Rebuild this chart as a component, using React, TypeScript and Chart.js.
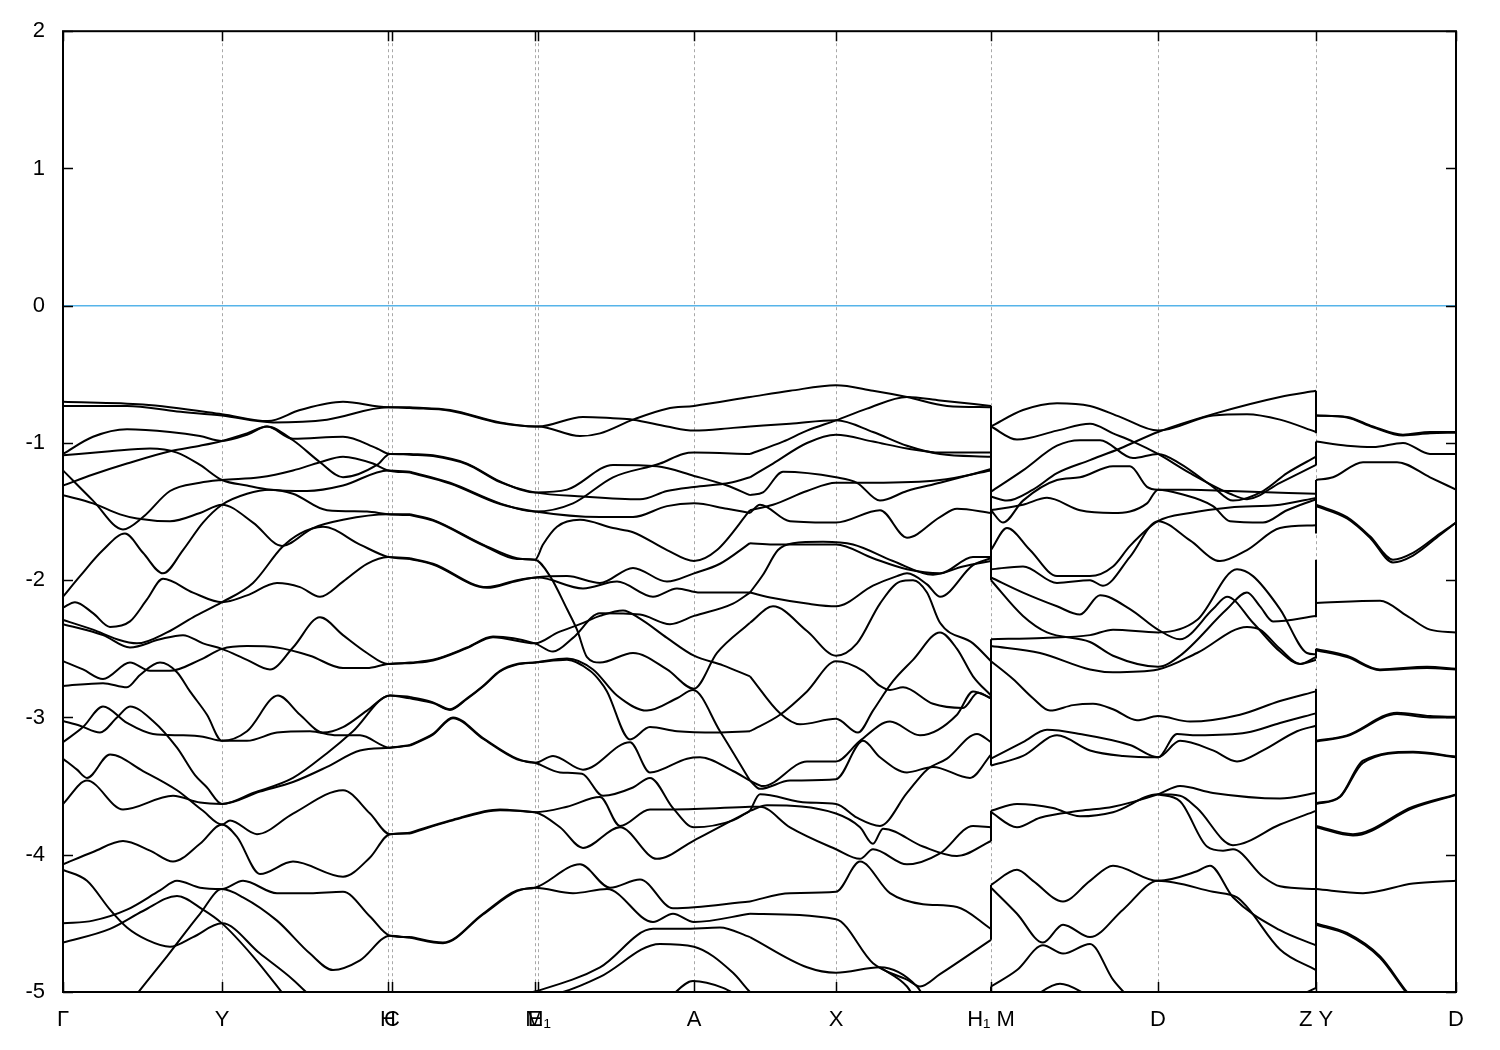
import React, { useEffect, useRef } from "react";
import { Chart, registerables } from "chart.js";
Chart.register(...registerables);

// k-path positions (path length units) of the high-symmetry points and their labels
const kPoints = [0, 159, 325, 329, 472, 475, 631, 773, 928, 1095, 1253, 1393];
const kLabels = ["Γ", "Y", "H", "C", "E", "M₁", "A", "X", "H₁ M", "D", "Z Y", "D"];
const energyTicks = [-5, -4, -3, -2, -1, 0, 1, 2];
const fermiEnergy = 0;
const kMax = 1393;
const kH1M = 928;
const kZY = 1253;

// bands: each curve is a list of [k, E(eV)]
const bandsGammaToH = [
  [[0,-0.70],[80,-0.72],[159,-0.79],[205,-0.84],[237,-0.76],[280,-0.70],[325,-0.74],[347,-0.74]],
  [[0,-0.73],[64,-0.73],[114,-0.77],[159,-0.80],[210,-0.85],[264,-0.83],[325,-0.74],[347,-0.745]],
  [[0,-1.08],[30,-0.955],[64,-0.90],[107,-0.92],[137,-0.95],[159,-0.985],[184,-0.94],[204,-0.88],[230,-0.97],[280,-0.955],[314,-1.04],[327,-1.08],[347,-1.08]],
  [[0,-1.31],[30,-1.23],[64,-1.15],[107,-1.06],[137,-1.02],[159,-0.985],[184,-0.93],[204,-0.88],[230,-0.98],[257,-1.14],[280,-1.25],[314,-1.16],[327,-1.08],[347,-1.085]],
  [[0,-1.09],[47,-1.06],[87,-1.04],[114,-1.07],[137,-1.16],[159,-1.27],[184,-1.31],[207,-1.34],[244,-1.35],[280,-1.31],[325,-1.20],[347,-1.21]],
  [[0,-1.20],[30,-1.42],[60,-1.63],[80,-1.54],[107,-1.35],[137,-1.29],[159,-1.27],[197,-1.25],[230,-1.20],[257,-1.14],[280,-1.10],[310,-1.15],[325,-1.20],[347,-1.215]],
  [[0,-1.38],[30,-1.44],[57,-1.52],[74,-1.55],[107,-1.57],[137,-1.51],[159,-1.45],[190,-1.58],[219,-1.75],[250,-1.62],[280,-1.56],[325,-1.52],[347,-1.52]],
  [[0,-2.12],[17,-1.97],[40,-1.78],[62,-1.66],[80,-1.80],[100,-1.95],[120,-1.78],[140,-1.58],[159,-1.45],[184,-1.37],[207,-1.34],[230,-1.37],[264,-1.49],[304,-1.50],[325,-1.52],[347,-1.525]],
  [[0,-2.20],[12,-2.16],[30,-2.24],[47,-2.34],[67,-2.30],[84,-2.14],[100,-1.99],[130,-2.09],[159,-2.16],[184,-2.11],[214,-2.02],[237,-2.05],[257,-2.12],[280,-2.01],[304,-1.88],[325,-1.83],[347,-1.84]],
  [[0,-2.29],[30,-2.36],[54,-2.43],[74,-2.46],[104,-2.38],[130,-2.27],[159,-2.16],[190,-2.02],[219,-1.76],[237,-1.66],[260,-1.61],[297,-1.74],[325,-1.83],[347,-1.845]],
  [[0,-2.32],[40,-2.40],[67,-2.49],[97,-2.43],[120,-2.40],[140,-2.46],[159,-2.50],[184,-2.58],[207,-2.65],[230,-2.49],[257,-2.27],[280,-2.40],[304,-2.53],[325,-2.61],[347,-2.60]],
  [[0,-2.59],[20,-2.65],[40,-2.72],[67,-2.60],[87,-2.66],[107,-2.66],[137,-2.58],[159,-2.50],[184,-2.48],[214,-2.49],[247,-2.55],[280,-2.64],[304,-2.64],[325,-2.61],[347,-2.605]],
  [[0,-2.77],[40,-2.75],[64,-2.78],[77,-2.69],[97,-2.60],[114,-2.67],[127,-2.81],[144,-2.98],[159,-3.17],[184,-3.10],[215,-2.84],[237,-2.98],[260,-3.11],[280,-3.07],[304,-2.95],[327,-2.84],[347,-2.85]],
  [[0,-3.025],[17,-3.06],[37,-3.11],[54,-3.0],[67,-2.92],[90,-3.025],[114,-3.22],[132,-3.42],[144,-3.51],[159,-3.63],[190,-3.55],[230,-3.44],[264,-3.26],[290,-3.10],[327,-2.84],[347,-2.86]],
  [[0,-3.18],[20,-3.07],[40,-2.92],[64,-3.04],[90,-3.12],[120,-3.13],[140,-3.14],[159,-3.17],[184,-3.17],[214,-3.11],[247,-3.10],[274,-3.13],[297,-3.13],[327,-3.22],[347,-3.20]],
  [[0,-3.30],[14,-3.38],[24,-3.44],[47,-3.27],[80,-3.39],[114,-3.53],[140,-3.68],[159,-3.78],[167,-3.75],[194,-3.85],[230,-3.70],[280,-3.53],[307,-3.70],[327,-3.85],[347,-3.84]],
  [[0,-3.63],[24,-3.46],[60,-3.67],[110,-3.57],[137,-3.62],[159,-3.63],[197,-3.54],[230,-3.47],[264,-3.36],[297,-3.24],[327,-3.22],[347,-3.205]],
  [[0,-4.07],[30,-3.98],[60,-3.90],[87,-3.97],[110,-4.05],[137,-3.92],[159,-3.78],[174,-3.87],[197,-4.14],[230,-4.05],[280,-4.16],[307,-4.02],[327,-3.85],[347,-3.845]],
  [[0,-4.11],[24,-4.19],[47,-4.40],[64,-4.53],[84,-4.62],[107,-4.67],[130,-4.60],[159,-4.50],[197,-4.72],[230,-4.91],[250,-5.05]],
  [[0,-4.50],[30,-4.48],[64,-4.40],[97,-4.26],[114,-4.19],[137,-4.24],[159,-4.25],[180,-4.19],[214,-4.28],[247,-4.28],[280,-4.27],[307,-4.45],[327,-4.59],[347,-4.60]],
  [[0,-4.64],[47,-4.54],[80,-4.41],[114,-4.30],[140,-4.40],[159,-4.50],[190,-4.74],[224,-5.05]],
  [[70,-5.05],[104,-4.74],[137,-4.43],[159,-4.25],[180,-4.31],[214,-4.48],[247,-4.72],[270,-4.84],[297,-4.77],[327,-4.59],[347,-4.605]],
];

const bandsHToA = [
  [[347,-0.74],[387,-0.76],[437,-0.85],[472,-0.88],[475,-0.88],[520,-0.81],[550,-0.82],[570,-0.83],[604,-0.88],[631,-0.91],[670,-0.89],[687,-0.88]],
  [[347,-0.745],[387,-0.765],[437,-0.855],[472,-0.88],[475,-0.88],[517,-0.95],[537,-0.93],[570,-0.83],[604,-0.75],[631,-0.73],[687,-0.665]],
  [[347,-1.08],[370,-1.09],[404,-1.15],[437,-1.28],[472,-1.36],[504,-1.34],[550,-1.16],[594,-1.17],[631,-1.24],[664,-1.31],[687,-1.38]],
  [[347,-1.085],[370,-1.095],[404,-1.155],[437,-1.285],[472,-1.36],[520,-1.39],[577,-1.41],[604,-1.35],[631,-1.32],[667,-1.29],[687,-1.25]],
  [[347,-1.21],[387,-1.29],[437,-1.44],[472,-1.50],[510,-1.44],[550,-1.25],[597,-1.15],[620,-1.08],[631,-1.07],[687,-1.08]],
  [[347,-1.215],[387,-1.295],[437,-1.445],[472,-1.50],[537,-1.54],[570,-1.54],[604,-1.46],[631,-1.44],[664,-1.48],[687,-1.51]],
  [[347,-1.52],[370,-1.56],[420,-1.74],[454,-1.84],[472,-1.85],[480,-1.74],[494,-1.61],[517,-1.56],[550,-1.62],[570,-1.65],[604,-1.78],[631,-1.86],[654,-1.78],[687,-1.49]],
  [[347,-1.525],[370,-1.565],[420,-1.745],[454,-1.845],[472,-1.85],[487,-1.97],[504,-2.21],[514,-2.36],[524,-2.56],[537,-2.60],[570,-2.53],[604,-2.65],[631,-2.79],[654,-2.53],[687,-2.31]],
  [[347,-1.84],[370,-1.88],[424,-2.05],[454,-2.0],[472,-1.98],[504,-1.97],[537,-2.02],[570,-1.91],[604,-2.01],[631,-1.95],[657,-1.88],[687,-1.73]],
  [[347,-1.845],[370,-1.885],[424,-2.055],[454,-2.005],[475,-1.98],[520,-2.06],[554,-2.01],[590,-2.12],[614,-2.06],[637,-2.09],[687,-2.09]],
  [[347,-2.60],[370,-2.58],[404,-2.49],[430,-2.41],[472,-2.46],[490,-2.52],[510,-2.42],[537,-2.24],[577,-2.25],[607,-2.32],[631,-2.26],[670,-2.17],[687,-2.09]],
  [[347,-2.605],[370,-2.585],[404,-2.495],[430,-2.415],[472,-2.46],[495,-2.38],[517,-2.32],[537,-2.26],[560,-2.22],[577,-2.28],[604,-2.42],[631,-2.55],[660,-2.62],[687,-2.70]],
  [[347,-2.85],[370,-2.89],[387,-2.94],[404,-2.86],[420,-2.77],[437,-2.66],[454,-2.61],[472,-2.60],[504,-2.58],[527,-2.66],[537,-2.735],[544,-2.81],[567,-3.16],[587,-3.07],[614,-3.10],[654,-3.11],[687,-3.10]],
  [[347,-2.86],[370,-2.895],[387,-2.945],[404,-2.865],[420,-2.775],[437,-2.665],[454,-2.615],[472,-2.60],[504,-2.57],[530,-2.65],[554,-2.84],[584,-2.95],[614,-2.86],[630,-2.80],[657,-3.10],[687,-3.46]],
  [[347,-3.20],[370,-3.12],[390,-3.0],[420,-3.15],[454,-3.30],[472,-3.33],[490,-3.28],[520,-3.38],[567,-3.18],[587,-3.40],[624,-3.30],[637,-3.29],[670,-3.39],[687,-3.46]],
  [[347,-3.205],[370,-3.125],[390,-3.005],[420,-3.155],[454,-3.305],[472,-3.33],[497,-3.40],[519,-3.41],[540,-3.57],[570,-3.51],[587,-3.44],[610,-3.66],[631,-3.80],[670,-3.75],[687,-3.68]],
  [[347,-3.84],[387,-3.75],[437,-3.67],[472,-3.69],[504,-3.65],[537,-3.58],[557,-3.79],[587,-3.67],[610,-3.67],[687,-3.65]],
  [[347,-3.845],[387,-3.755],[437,-3.675],[472,-3.69],[497,-3.80],[520,-3.95],[557,-3.80],[594,-4.03],[630,-3.90],[687,-3.68]],
  [[347,-4.60],[380,-4.64],[420,-4.43],[454,-4.26],[472,-4.24],[517,-4.07],[547,-4.24],[577,-4.18],[610,-4.39],[687,-4.34]],
  [[347,-4.605],[380,-4.645],[420,-4.435],[454,-4.265],[472,-4.24],[510,-4.28],[544,-4.25],[590,-4.49],[610,-4.43],[631,-4.49],[687,-4.43]],
  [[440,-5.05],[475,-4.99],[537,-4.82],[590,-4.54],[620,-4.54],[657,-4.53],[687,-4.60]],
  [[460,-5.05],[500,-5.0],[537,-4.89],[597,-4.65],[631,-4.67],[670,-4.86],[687,-5.0],[695,-5.05]],
  [[605,-5.05],[630,-4.92],[660,-4.97],[680,-5.05]],
];

const bandsAToH1 = [
  [[687,-0.665],[727,-0.62],[773,-0.58],[810,-0.62],[844,-0.665],[884,-0.73],[928,-0.74]],
  [[687,-0.88],[727,-0.86],[773,-0.835],[810,-0.92],[844,-1.02],[877,-1.08],[928,-1.10]],
  [[687,-1.08],[720,-0.99],[744,-0.91],[773,-0.835],[804,-0.75],[844,-0.665],[877,-0.69],[928,-0.73]],
  [[687,-1.25],[710,-1.15],[744,-1.00],[773,-0.94],[810,-0.99],[844,-1.04],[877,-1.07],[928,-1.07]],
  [[687,-1.38],[700,-1.36],[720,-1.21],[773,-1.25],[794,-1.29],[817,-1.42],[844,-1.35],[877,-1.29],[928,-1.19]],
  [[687,-1.51],[697,-1.45],[727,-1.57],[773,-1.58],[817,-1.49],[844,-1.69],[877,-1.54],[894,-1.48],[928,-1.51]],
  [[687,-1.49],[710,-1.45],[744,-1.35],[773,-1.29],[810,-1.29],[877,-1.27],[928,-1.20]],
  [[687,-1.73],[710,-1.74],[773,-1.74],[810,-1.84],[844,-1.92],[877,-1.95],[910,-1.83],[928,-1.83]],
  [[687,-2.09],[710,-2.13],[744,-2.17],[773,-2.19],[810,-2.04],[834,-1.97],[844,-1.95],[864,-2.03],[877,-2.12],[910,-1.89],[928,-1.84]],
  [[687,-2.31],[710,-2.19],[744,-2.37],[773,-2.55],[794,-2.46],[817,-2.17],[837,-2.01],[850,-2.00],[864,-2.09],[877,-2.31],[910,-2.46],[928,-2.59]],
  [[687,-2.09],[700,-1.96],[715,-1.78],[730,-1.73],[760,-1.72],[790,-1.74],[830,-1.86],[870,-1.96],[900,-1.90],[928,-1.86]],
  [[687,-2.70],[717,-2.97],[737,-3.05],[773,-3.01],[795,-3.11],[810,-2.95],[830,-2.735],[850,-2.58],[877,-2.38],[894,-2.50],[910,-2.70],[928,-2.84]],
  [[687,-3.10],[717,-2.98],[744,-2.81],[773,-2.59],[800,-2.66],[817,-2.77],[827,-2.80],[840,-2.78],[870,-2.90],[900,-2.93],[915,-2.82],[928,-2.86]],
  [[687,-3.46],[697,-3.52],[727,-3.46],[773,-3.45],[800,-3.17],[817,-3.29],[844,-3.40],[870,-3.36],[907,-3.44],[928,-3.27]],
  [[687,-3.46],[700,-3.50],[744,-3.32],[773,-3.32],[797,-3.17],[827,-3.03],[857,-3.13],[894,-2.98],[910,-2.81],[928,-2.86]],
  [[687,-3.68],[697,-3.56],[744,-3.62],[773,-3.63],[794,-3.73],[817,-3.79],[844,-3.55],[864,-3.38],[884,-3.30],[914,-3.12],[928,-3.18]],
  [[687,-3.65],[697,-3.65],[727,-3.80],[773,-3.96],[797,-4.03],[810,-3.96],[844,-4.07],[877,-3.99],[910,-3.79],[928,-3.80]],
  [[687,-3.68],[704,-3.64],[773,-3.70],[797,-3.80],[810,-3.92],[820,-3.81],[860,-3.94],[894,-4.01],[928,-3.90]],
  [[687,-4.34],[727,-4.28],[773,-4.27],[797,-4.05],[827,-4.28],[860,-4.36],[894,-4.38],[928,-4.54]],
  [[687,-4.43],[773,-4.47],[810,-4.79],[844,-4.91],[857,-4.96],[877,-4.87],[928,-4.62]],
  [[687,-4.60],[744,-4.82],[773,-4.86],[817,-4.82],[854,-4.96],[862,-5.05]],
  [[817,-4.82],[844,-4.96],[852,-5.05]],
];

const bandsMToZ = [
  [[928,-0.88],[960,-0.76],[994,-0.71],[1027,-0.73],[1057,-0.81],[1095,-0.91],[1150,-0.80],[1184,-0.79],[1217,-0.83],[1253,-0.92]],
  [[928,-0.88],[954,-0.975],[994,-0.91],[1027,-0.86],[1050,-0.93],[1070,-0.99],[1095,-1.08],[1127,-1.22],[1167,-1.37],[1184,-1.41],[1217,-1.29],[1253,-1.16]],
  [[928,-1.355],[960,-1.20],[994,-1.02],[1017,-0.98],[1037,-0.98],[1070,-1.11],[1095,-1.08],[1117,-1.15],[1150,-1.32],[1170,-1.42],[1200,-1.35],[1224,-1.22],[1253,-1.10]],
  [[928,-1.39],[944,-1.42],[970,-1.34],[994,-1.22],[1027,-1.125],[1057,-1.04],[1095,-0.92],[1150,-0.79],[1217,-0.665],[1253,-0.62]],
  [[928,-1.49],[960,-1.45],[984,-1.40],[1017,-1.49],[1050,-1.51],[1084,-1.44],[1095,-1.34],[1117,-1.37],[1150,-1.46],[1167,-1.57],[1200,-1.58],[1224,-1.49],[1253,-1.41]],
  [[928,-1.49],[940,-1.58],[960,-1.42],[994,-1.27],[1017,-1.25],[1050,-1.17],[1067,-1.17],[1084,-1.32],[1095,-1.34],[1127,-1.34],[1167,-1.35],[1253,-1.37]],
  [[928,-1.78],[944,-1.62],[967,-1.78],[994,-1.97],[1027,-1.97],[1050,-1.90],[1067,-1.75],[1095,-1.57],[1127,-1.51],[1167,-1.47],[1217,-1.45],[1253,-1.40]],
  [[928,-1.92],[960,-1.90],[994,-2.02],[1027,-2.0],[1040,-2.04],[1067,-1.83],[1095,-1.57],[1127,-1.71],[1157,-1.86],[1184,-1.78],[1217,-1.62],[1253,-1.60]],
  [[928,-1.98],[960,-2.09],[994,-2.19],[1017,-2.25],[1037,-2.11],[1067,-2.21],[1095,-2.36],[1117,-2.43],[1150,-2.21],[1164,-2.12],[1190,-2.31],[1217,-2.52],[1237,-2.61],[1253,-2.56]],
  [[928,-2.0],[960,-2.26],[984,-2.38],[1027,-2.45],[1050,-2.55],[1095,-2.63],[1117,-2.55],[1164,-2.21],[1184,-2.09],[1197,-2.19],[1210,-2.30],[1253,-2.26]],
  [[928,-2.43],[980,-2.42],[1027,-2.40],[1050,-2.36],[1095,-2.38],[1134,-2.29],[1174,-1.92],[1190,-1.97],[1217,-2.21],[1244,-2.53],[1253,-2.54]],
  [[928,-2.48],[977,-2.53],[1027,-2.65],[1050,-2.67],[1095,-2.65],[1134,-2.53],[1184,-2.34],[1197,-2.36],[1217,-2.50],[1237,-2.61],[1253,-2.58]],
  [[928,-2.59],[950,-2.72],[970,-2.86],[987,-2.95],[1010,-2.91],[1030,-2.90],[1050,-2.94],[1074,-3.02],[1095,-2.99],[1127,-3.03],[1177,-2.98],[1217,-2.88],[1253,-2.81]],
  [[928,-3.30],[960,-3.18],[984,-3.09],[1017,-3.12],[1067,-3.20],[1095,-3.29],[1114,-3.12],[1134,-3.13],[1184,-3.11],[1217,-3.04],[1253,-2.97]],
  [[928,-3.35],[960,-3.28],[994,-3.13],[1027,-3.24],[1060,-3.28],[1095,-3.29],[1117,-3.17],[1150,-3.24],[1174,-3.32],[1200,-3.24],[1234,-3.10],[1253,-3.06]],
  [[928,-3.69],[954,-3.80],[977,-3.73],[1017,-3.68],[1050,-3.65],[1095,-3.56],[1117,-3.50],[1150,-3.55],[1217,-3.59],[1253,-3.55]],
  [[928,-3.68],[954,-3.63],[990,-3.66],[1017,-3.72],[1050,-3.69],[1095,-3.56],[1117,-3.57],[1134,-3.66],[1170,-3.93],[1217,-3.78],[1253,-3.68]],
  [[1095,-3.56],[1117,-3.61],[1144,-3.94],[1160,-3.97],[1170,-3.96],[1200,-4.16],[1217,-4.23],[1253,-4.25]],
  [[928,-4.22],[954,-4.11],[970,-4.19],[1000,-4.34],[1027,-4.19],[1050,-4.08],[1095,-4.19],[1134,-4.12],[1147,-4.08],[1170,-4.31],[1217,-4.55],[1253,-4.66]],
  [[928,-4.24],[954,-4.43],[980,-4.64],[1000,-4.51],[1027,-4.60],[1060,-4.40],[1095,-4.19],[1150,-4.27],[1174,-4.31],[1184,-4.38],[1217,-4.69],[1253,-4.84]],
  [[928,-4.96],[954,-4.84],[980,-4.66],[1000,-4.72],[1027,-4.65],[1050,-4.91],[1067,-5.05]],
  [[967,-5.05],[997,-4.94],[1027,-5.03]],
  [[1230,-5.05],[1253,-4.97]],
];

const bandsYToD = [
  [[1253,-0.80],[1284,-0.81],[1310,-0.88],[1340,-0.94],[1367,-0.92],[1393,-0.92]],
  [[1253,-0.80],[1284,-0.815],[1310,-0.885],[1340,-0.945],[1367,-0.93],[1393,-0.925]],
  [[1253,-0.99],[1284,-1.02],[1310,-1.03],[1340,-1.0],[1367,-1.08],[1393,-1.08]],
  [[1253,-1.27],[1270,-1.25],[1300,-1.14],[1334,-1.14],[1367,-1.25],[1393,-1.34]],
  [[1253,-1.45],[1284,-1.54],[1307,-1.68],[1330,-1.85],[1350,-1.80],[1377,-1.66],[1393,-1.58]],
  [[1253,-1.46],[1284,-1.55],[1307,-1.69],[1330,-1.87],[1350,-1.82],[1377,-1.67],[1393,-1.58]],
  [[1253,-2.165],[1317,-2.15],[1344,-2.26],[1367,-2.36],[1393,-2.38]],
  [[1253,-2.50],[1284,-2.55],[1317,-2.65],[1364,-2.63],[1393,-2.645]],
  [[1253,-2.51],[1284,-2.56],[1317,-2.655],[1364,-2.64],[1393,-2.65]],
  [[1253,-3.17],[1284,-3.13],[1334,-2.965],[1367,-2.99],[1393,-2.995]],
  [[1253,-3.175],[1284,-3.135],[1334,-2.975],[1367,-3.0],[1393,-3.0]],
  [[1253,-3.63],[1277,-3.58],[1300,-3.33],[1350,-3.255],[1393,-3.29]],
  [[1253,-3.625],[1277,-3.575],[1300,-3.315],[1350,-3.25],[1393,-3.285]],
  [[1253,-3.79],[1290,-3.85],[1350,-3.65],[1393,-3.56]],
  [[1253,-3.80],[1290,-3.86],[1350,-3.66],[1393,-3.565]],
  [[1253,-4.25],[1300,-4.28],[1350,-4.21],[1393,-4.19]],
  [[1253,-4.50],[1284,-4.57],[1317,-4.74],[1344,-5.0],[1350,-5.05]],
  [[1253,-4.51],[1284,-4.58],[1317,-4.75],[1344,-5.01],[1350,-5.06]],
];

// vertical connections at the discontinuous path joints (energy ranges)
const jumpsH1M = [[-0.73, -2.0], [-2.43, -3.35], [-3.68, -3.9], [-4.22, -4.62], [-4.96, -5.0]];
const jumpsZY = [[-0.62, -0.93], [-0.99, -1.16], [-1.27, -1.66], [-1.85, -2.27], [-2.5, -2.57], [-2.79, -4.98]];

const FONT = "'Liberation Sans', Arial, sans-serif";

export default function App() {
  const ref = useRef<HTMLCanvasElement>(null);
  useEffect(() => {
    const canvas = ref.current;
    if (!canvas) return;
    const lineStyle = { borderColor: "#000", borderWidth: 2, pointRadius: 0, fill: false };
    const datasets: any[] = [];
    datasets.push({
      data: [{ x: 0, y: fermiEnergy }, { x: kMax, y: fermiEnergy }],
      borderColor: "#56b4e9", borderWidth: 1.5, pointRadius: 0, tension: 0,
    });
    [...bandsGammaToH, ...bandsHToA, ...bandsAToH1, ...bandsMToZ, ...bandsYToD].forEach((c) => {
      datasets.push({ ...lineStyle, data: c.map(([x, y]) => ({ x, y })), cubicInterpolationMode: "monotone" });
    });
    jumpsH1M.forEach(([a, b]) => datasets.push({ ...lineStyle, tension: 0, data: [{ x: kH1M, y: a }, { x: kH1M, y: b }] }));
    jumpsZY.forEach(([a, b]) => datasets.push({ ...lineStyle, tension: 0, data: [{ x: kZY, y: a }, { x: kZY, y: b }] }));

    const framePlugin = {
      id: "frame",
      beforeDatasetsDraw(chart: any) {
        const { ctx, chartArea: a, scales } = chart;
        ctx.save();
        ctx.strokeStyle = "#a8a8a8";
        ctx.lineWidth = 1;
        ctx.setLineDash([3, 3]);
        kPoints.forEach((k) => {
          if (k <= 0 || k >= kMax) return;
          const px = Math.round(scales.x.getPixelForValue(k)) + 0.5;
          ctx.beginPath();
          ctx.moveTo(px, a.top);
          ctx.lineTo(px, a.bottom);
          ctx.stroke();
        });
        ctx.restore();
      },
      afterDatasetsDraw(chart: any) {
        const { ctx, chartArea: a, scales } = chart;
        ctx.save();
        ctx.strokeStyle = "#000";
        ctx.lineWidth = 2;
        ctx.strokeRect(a.left, a.top, a.right - a.left, a.bottom - a.top);
        ctx.lineWidth = 1.5;
        const t = 10;
        energyTicks.forEach((v) => {
          const py = Math.round(scales.y.getPixelForValue(v)) + 0.5;
          ctx.beginPath();
          ctx.moveTo(a.left, py); ctx.lineTo(a.left + t, py);
          ctx.moveTo(a.right, py); ctx.lineTo(a.right - t, py);
          ctx.stroke();
        });
        kPoints.forEach((k) => {
          const px = Math.round(scales.x.getPixelForValue(k)) + 0.5;
          ctx.beginPath();
          ctx.moveTo(px, a.bottom); ctx.lineTo(px, a.bottom - t);
          ctx.moveTo(px, a.top); ctx.lineTo(px, a.top + t);
          ctx.stroke();
        });
        ctx.restore();
      },
    };

    const chart = new Chart(canvas, {
      type: "line",
      data: { datasets },
      options: {
        responsive: false,
        animation: false,
        devicePixelRatio: 1,
        events: [],
        layout: { padding: { top: 28, right: 44, left: 0, bottom: 0 } },
        plugins: { legend: { display: false }, tooltip: { enabled: false } },
        scales: {
          x: {
            type: "linear",
            min: 0,
            max: kMax,
            afterBuildTicks: (s: any) => { s.ticks = kPoints.map((v) => ({ value: v })); },
            afterFit: (s: any) => { s.height = 58; },
            grid: { display: false, drawTicks: false },
            border: { display: false },
            ticks: {
              autoSkip: false, maxRotation: 0, minRotation: 0, padding: 15, color: "#000",
              font: { family: FONT, size: 22 },
              callback: (_v: any, i: number) => kLabels[i],
            },
          },
          y: {
            type: "linear",
            min: -5,
            max: 2,
            afterBuildTicks: (s: any) => { s.ticks = energyTicks.map((v) => ({ value: v })); },
            afterFit: (s: any) => { s.width = 63; },
            grid: { display: false, drawTicks: false },
            border: { display: false },
            ticks: { padding: 18, color: "#000", font: { family: FONT, size: 22 } },
          },
        },
      } as any,
      plugins: [framePlugin],
    });
    return () => chart.destroy();
  }, []);
  return (
    <div style={{ position: "fixed", left: 0, top: 0, width: 1500, height: 1050, background: "#fff" }}>
      <canvas ref={ref} width={1500} height={1050} style={{ display: "block" }} />
    </div>
  );
}
